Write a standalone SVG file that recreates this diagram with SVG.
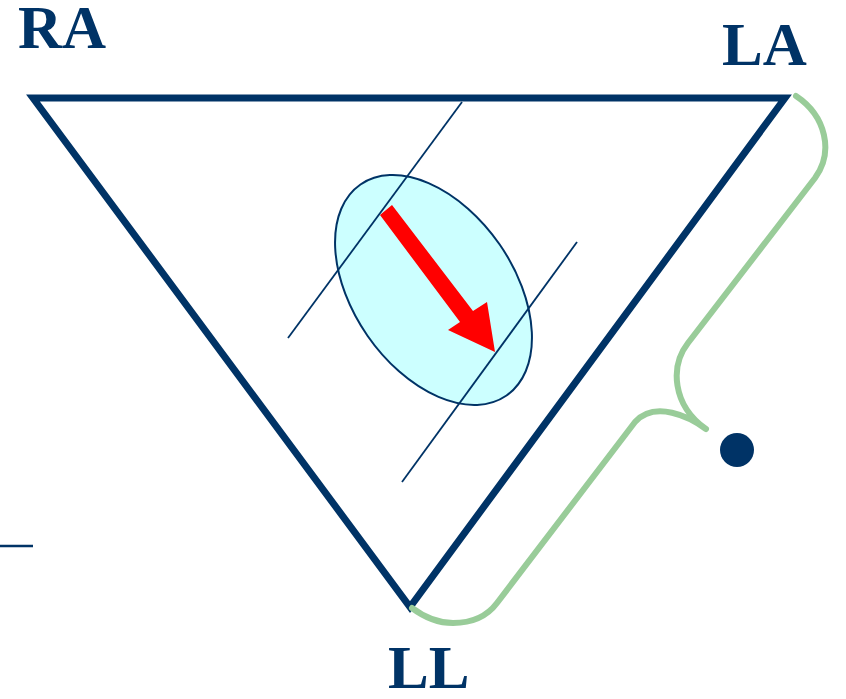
<svg xmlns="http://www.w3.org/2000/svg" width="846" height="699" viewBox="0 0 846 699">
<style>
.lbl{font-family:"Liberation Serif","Times New Roman",serif;font-weight:bold;font-size:61px;fill:#003366}
.thin{stroke:#003366;stroke-width:1.8;fill:none}
</style>
<rect width="846" height="699" fill="#ffffff"/>
<g id="triangle">
<polygon points="33,98 785,98 410,607" fill="none" stroke="#003366" stroke-width="7" stroke-linejoin="miter"/>
</g>
<g id="label-RA"><text class="lbl" x="18" y="48">RA</text></g>
<g id="label-LA"><text class="lbl" x="722" y="65">LA</text></g>
<g id="label-LL"><text class="lbl" x="388" y="688">LL</text></g>
<g id="heart">
<ellipse cx="433.5" cy="290" rx="128.3" ry="80.3" transform="rotate(55.3 433.5 290)" fill="#CCFFFF" stroke="#003366" stroke-width="2"/>
</g>
<g id="connectors">
<line class="thin" x1="462" y1="102" x2="288" y2="338"/>
<line class="thin" x1="577" y1="242" x2="402" y2="482"/>
<polygon points="392,205 473,311 487,302 495,352 448,330 460,322 380,215" fill="#FF0000"/>
<path d="M796,96 C826,116 834,152 815,178 L688,343 C670,366 672,405 706,429 C690,417 655,400 635,422 L497,603 Q482,623 453,623 Q432,623 412,608" fill="none" stroke="#99CC99" stroke-width="6" stroke-linejoin="round" stroke-linecap="round"/>
<line x1="0" y1="546" x2="33" y2="546" stroke="#003366" stroke-width="2.5"/>
</g>
<g id="dot"><circle cx="737" cy="450" r="17" fill="#003366"/></g>
</svg>
